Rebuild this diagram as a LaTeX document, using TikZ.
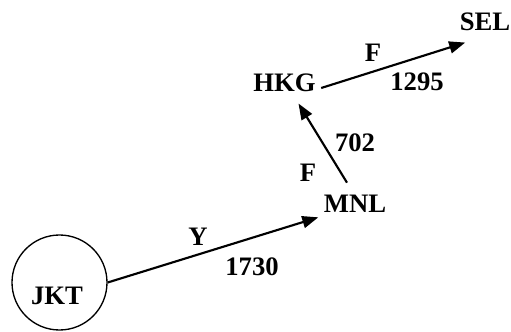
\documentclass[tikz,border=0pt]{standalone}
\usepackage{fontspec}
\setmainfont{Liberation Serif}
\usetikzlibrary{arrows.meta,calc}
\begin{document}
\begin{tikzpicture}[x=0.75pt,y=0.75pt,
  lbl/.style={font=\fontsize{20}{23}\selectfont\bfseries, inner sep=4pt},
  city/.style={lbl},
  conn/.style={line width=1.6pt, -{Triangle[length=12pt,width=9pt]}}]
\useasboundingbox (0,0) rectangle (511,332);
\node[circle, draw, line width=1pt, minimum size=71.25pt, inner sep=0pt,
  label={[lbl, xshift=-1.9pt, yshift=-10pt]center:JKT}] (JKT) at (59.5,49.5) {};
\node[city] (MNL) at (355,128) {MNL};
\node[city] (HKG) at (284.5,249) {HKG};
\node[city] (SEL) at (485,310) {SEL};
\draw[conn] (JKT.east) -- ($(MNL.south west)+(0,1)$);
\draw[conn] ($(MNL.north)+(-8,7)$) -- ($(HKG.south)+(14,-6)$);
\draw[conn] ($(HKG.east)+(0,-5)$) -- ($(SEL.south west)+(11,-6)$);
\node[lbl] (lY) at (198,95) {Y};
\node[lbl] (l1730) at (252,65) {1730};
\node[lbl] (lF1) at (308,159) {F};
\node[lbl] (l702) at (355,189) {702};
\node[lbl] (lF2) at (373,279) {F};
\node[lbl] (l1295) at (417,250) {1295};
\end{tikzpicture}
\end{document}
